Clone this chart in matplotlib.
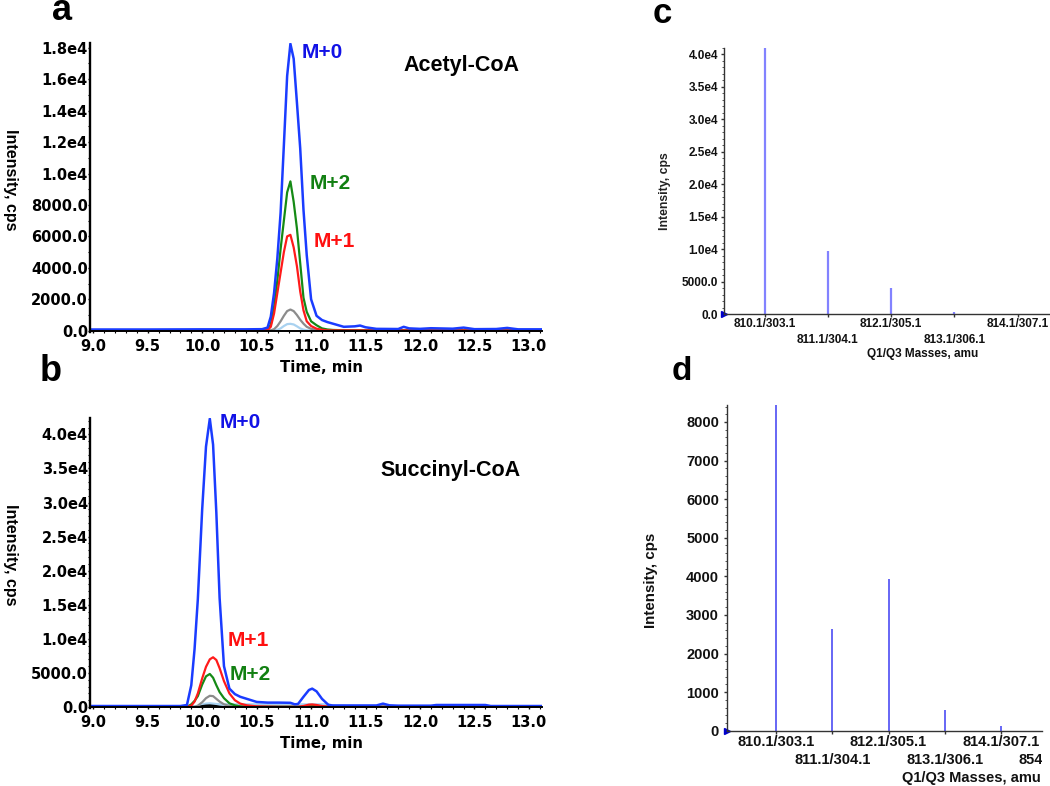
import matplotlib
matplotlib.use("Agg")
import matplotlib.pyplot as plt
from matplotlib.ticker import FixedLocator, MultipleLocator, FuncFormatter
from matplotlib.transforms import Bbox, TransformedBbox

# ---- panel a: Acetyl-CoA chromatogram ----
a_time = [8.97, 9.5, 10.0, 10.4, 10.55, 10.6, 10.63, 10.66, 10.69, 10.72, 10.75, 10.78,
          10.81, 10.84, 10.87, 10.9, 10.93, 10.96, 11.0, 11.05, 11.1, 11.15, 11.2, 11.3,
          11.4, 11.45, 11.5, 11.6, 11.8, 11.85, 11.9, 12.0, 12.1, 12.3, 12.4, 12.5,
          12.7, 12.8, 12.9, 13.12]
a_m0 = [80, 80, 90, 90, 100, 200, 900, 2400, 4600, 7500, 11800, 16200,
        18250, 17300, 14500, 11600, 7700, 4800, 2000, 950, 680, 550, 450, 250,
        280, 330, 220, 120, 110, 250, 150, 120, 160, 130, 200, 100,
        110, 180, 90, 90]
a_m1 = [20, 20, 20, 20, 20, 40, 250, 1100, 2400, 3700, 5000, 6000,
        6100, 5300, 4100, 2500, 1300, 600, 300, 130, 60, 20, 20, 20,
        20, 20, 20, 20, 20, 20, 20, 20, 20, 20, 20, 20,
        20, 20, 20, 20]
a_m2 = [30, 30, 30, 30, 30, 60, 400, 1500, 3200, 5200, 7000, 8800,
        9500, 8200, 6500, 4300, 2100, 1200, 600, 350, 150, 80, 50, 30,
        30, 30, 30, 30, 30, 30, 30, 30, 30, 30, 30, 30,
        30, 30, 30, 30]
a_m3 = [30, 30, 30, 30, 30, 30, 30, 100, 300, 600, 950, 1250,
        1350, 1250, 1000, 700, 450, 250, 120, 60, 30, 30, 30, 30,
        30, 30, 30, 30, 30, 30, 30, 30, 30, 30, 30, 30,
        30, 30, 30, 30]
a_m4 = [10, 10, 10, 10, 10, 10, 10, 20, 60, 150, 300, 420,
        440, 400, 280, 150, 70, 30, 10, 10, 10, 10, 10, 10,
        10, 10, 10, 10, 10, 10, 10, 10, 10, 10, 10, 10,
        10, 10, 10, 10]

# ---- panel b: Succinyl-CoA chromatogram ----
b_time = [8.97, 9.5, 9.8, 9.86, 9.9, 9.93, 9.96, 10.0, 10.035, 10.07, 10.1, 10.13,
          10.16, 10.2, 10.25, 10.3, 10.35, 10.41, 10.5, 10.6, 10.7, 10.81, 10.85, 10.88,
          10.93, 10.98, 11.01, 11.05, 11.1, 11.16, 11.2, 11.5, 11.6, 11.66, 11.72, 11.8,
          12.1, 12.15, 12.6, 12.65, 13.12]
b_m0 = [150, 150, 150, 300, 3200, 8500, 15800, 29000, 38200, 42300, 38500, 28500,
        16000, 6000, 2700, 1900, 1500, 1200, 750, 650, 650, 620, 400, 450,
        1500, 2500, 2700, 2300, 1200, 300, 230, 230, 230, 500, 250, 200,
        200, 300, 300, 150, 150]
b_m1 = [30, 30, 30, 30, 200, 800, 2000, 4200, 5900, 7000, 7300, 6900,
        5700, 3800, 2000, 1000, 500, 250, 100, 60, 30, 30, 30, 30,
        150, 350, 380, 300, 150, 50, 30, 30, 30, 30, 30, 30,
        30, 30, 30, 30, 30]
b_m2 = [30, 30, 30, 30, 400, 900, 1600, 3300, 4500, 4850, 4300, 3200,
        2200, 1300, 550, 250, 100, 50, 30, 30, 30, 30, 30, 30,
        30, 150, 200, 150, 30, 30, 30, 30, 30, 30, 30, 30,
        30, 30, 30, 30, 30]
b_m3 = [30, 30, 30, 30, 30, 30, 200, 700, 1300, 1650, 1600, 1200,
        800, 400, 150, 60, 30, 30, 30, 30, 30, 30, 30, 30,
        30, 30, 30, 30, 30, 30, 30, 30, 30, 30, 30, 30,
        30, 30, 30, 30, 30]
b_m4 = [30, 30, 30, 30, 30, 30, 50, 250, 400, 450, 400, 350,
        320, 300, 300, 300, 300, 300, 300, 300, 300, 300, 300, 300,
        300, 300, 300, 300, 300, 300, 100, 30, 30, 30, 30, 30,
        30, 30, 30, 30, 30]
b_m5 = [0, 0, 0, 0, 0, 0, 0, 150, 220, 250, 200, 150,
        60, 0, 0, 0, 0, 0, 0, 0, 0, 0, 0, 0,
        0, 0, 0, 0, 0, 0, 0, 0, 0, 0, 0, 0,
        0, 0, 0, 0, 0]

# ---- panels c, d: Q1/Q3 mass spectra ----
mass_labels = ["810.1/303.1", "811.1/304.1", "812.1/305.1", "813.1/306.1", "814.1/307.1"]
extra_label = "854.1/347.1"
c_intensity = [41000, 9700, 4000, 300, 0]
d_intensity = [8440, 2630, 3920, 540, 120]

BLUE, RED, GREEN, GRAY, LBLUE = "#1a3cff", "#ff1a1a", "#158a15", "#8c8c8c", "#a9d2f0"
TXT_BLUE, TXT_RED, TXT_GREEN = "#1212e6", "#ff1010", "#128012"
ARIAL = "Liberation Sans"
W, H = 1050, 786


def px_axes(l, t, r, b):
    return [l / W, 1 - b / H, (r - l) / W, (b - t) / H]


def sci_fmt(v, pos):
    if v >= 1e4:
        return f"{v / 1e4:.1f}e4"
    return f"{v:.1f}"


fig = plt.figure(figsize=(10.5, 7.86), dpi=100)


def chrom_axes(rect, ymax, ystep, yminor):
    ax = fig.add_axes(rect)
    ax.set_xlim(8.97, 13.12)
    ax.set_ylim(-80 * ymax / 18300, ymax)
    for s in ("top", "right"):
        ax.spines[s].set_visible(False)
    ax.spines["left"].set_linewidth(1.7)
    ax.spines["bottom"].set_linewidth(1.4)
    ax.spines["bottom"].set_position(("data", 0))
    ax.xaxis.set_major_locator(MultipleLocator(0.5))
    ax.xaxis.set_minor_locator(MultipleLocator(0.1))
    ax.yaxis.set_major_locator(MultipleLocator(ystep))
    ax.yaxis.set_minor_locator(MultipleLocator(yminor))
    ax.yaxis.set_major_formatter(FuncFormatter(sci_fmt))
    ax.xaxis.set_major_formatter(FuncFormatter(lambda v, p: f"{v:.1f}"))
    ax.tick_params(axis="y", which="major", length=1.5, width=1, pad=0)
    ax.tick_params(axis="x", which="major", length=1.5, width=1, pad=4.5)
    ax.tick_params(which="minor", length=1.2, width=0.8)
    for lab in ax.get_xticklabels() + ax.get_yticklabels():
        lab.set_fontfamily("DejaVu Sans")
        lab.set_fontweight("bold")
        lab.set_fontsize(10.5)
    return ax


# panel a
ax_a = chrom_axes(px_axes(90, 43, 542, 332), 18300, 2000, 1000)
ax_a.plot(a_time, a_m4, color=LBLUE, lw=1.6)
ax_a.plot(a_time, a_m3, color=GRAY, lw=1.6)
ax_a.plot(a_time, a_m2, color=GREEN, lw=1.6)
ax_a.plot(a_time, a_m1, color=RED, lw=1.6)
ax_a.plot(a_time, a_m0, color=BLUE, lw=1.8)
ax_a.text(10.914, 17330, "M+0", color=TXT_BLUE, fontsize=15, fontweight="bold", family=ARIAL, va="baseline")
ax_a.text(10.99, 9036, "M+2", color=TXT_GREEN, fontsize=15, fontweight="bold", family=ARIAL, va="baseline")
ax_a.text(11.02, 5300, "M+1", color=TXT_RED, fontsize=15, fontweight="bold", family=ARIAL, va="baseline")
ax_a.text(12.383, 16527, "Acetyl-CoA", color="black", fontsize=15.5, fontweight="bold", family=ARIAL,
          ha="center", va="baseline")

# panel b
ax_b = chrom_axes(px_axes(90, 418, 542, 708.3), 42400, 5000, 1000)
ax_b.plot(b_time, b_m4, color=LBLUE, lw=2.6)
ax_b.plot(b_time, b_m5, color="black", lw=1.4)
ax_b.plot(b_time, b_m3, color=GRAY, lw=1.6)
ax_b.plot(b_time, b_m2, color=GREEN, lw=1.6)
ax_b.plot(b_time, b_m1, color=RED, lw=1.6)
ax_b.plot(b_time, b_m0, color=BLUE, lw=1.8)
ax_b.text(10.157, 40895, "M+0", color=TXT_BLUE, fontsize=15, fontweight="bold", family=ARIAL, va="baseline")
ax_b.text(10.234, 8997, "M+1", color=TXT_RED, fontsize=15, fontweight="bold", family=ARIAL, va="baseline")
ax_b.text(10.249, 3987, "M+2", color=TXT_GREEN, fontsize=15, fontweight="bold", family=ARIAL, va="baseline")
ax_b.text(12.276, 33930, "Succinyl-CoA", color="black", fontsize=15.5, fontweight="bold", family=ARIAL,
          ha="center", va="baseline")

for yc in (180, 555):
    fig.text(10 / W, 1 - yc / H, "Intensity, cps", rotation=-90, ha="center", va="center",
             fontsize=11.5, fontweight="bold", family=ARIAL)
for yb in (372, 748):
    fig.text(321.7 / W, 1 - yb / H, "Time, min", ha="center", va="baseline",
             fontsize=10.7, fontweight="bold", family="DejaVu Sans")

clip = TransformedBbox(Bbox([[0, 0], [1042 / W, 1]]), fig.transFigure)


def spectrum_axes(rect, xlim, values, ymax, ystep, yminor, fmt, tick_fs, bar_color, bar_lw,
                  row_gap, ypad):
    ax = fig.add_axes(rect)
    pos = list(range(len(values)))
    ax.vlines(pos, 0, values, color=bar_color, lw=bar_lw)
    ax.set_xlim(*xlim)
    ax.set_ylim(0, ymax)
    for s in ("top", "right"):
        ax.spines[s].set_visible(False)
    for s in ("left", "bottom"):
        ax.spines[s].set_linewidth(1.0)
        ax.spines[s].set_color("#333333")
    ax.xaxis.set_major_locator(FixedLocator(pos))
    ax.set_xticklabels(mass_labels, fontsize=tick_fs, fontweight="bold", family=ARIAL,
                       color="#111111")
    ax.yaxis.set_major_locator(MultipleLocator(ystep))
    ax.yaxis.set_minor_locator(MultipleLocator(yminor))
    ax.yaxis.set_major_formatter(FuncFormatter(fmt))
    for lab in ax.get_yticklabels():
        lab.set_fontfamily(ARIAL)
        lab.set_fontweight("bold")
        lab.set_fontsize(tick_fs)
        lab.set_color("#111111")
    ax.tick_params(axis="x", length=2.5, width=1, pad=0.5, colors="#333333", labelcolor="#111111")
    ax.tick_params(axis="y", which="major", length=2.5, width=1, pad=ypad, colors="#333333",
                   labelcolor="#111111")
    ax.tick_params(axis="y", which="minor", length=1.2, width=0.7, colors="#555555")
    # staggered second row of mass labels
    for i, tick in enumerate(ax.xaxis.get_major_ticks()):
        if i % 2 == 1:
            tick.set_pad(0.5 + row_gap)
    ax.plot([xlim[0]], [0], marker=">", ms=5, color="#0000cc", clip_on=False)
    off_px = (2.5 + 0.5 + row_gap) * 100 / 72
    t = ax.text(len(values), -off_px / (rect[3] * H), extra_label, transform=ax.get_xaxis_transform(),
                ha="center", va="top", fontsize=tick_fs, fontweight="bold", family=ARIAL,
                color="#111111")
    t.set_clip_box(clip)
    t.set_clip_on(True)
    return ax


ax_c = spectrum_axes(px_axes(724.3, 47.7, 1050, 314.3), (-0.639, 4.514), c_intensity, 41000,
                     5000, 1000, sci_fmt, 8.5, "#8282ff", 1.6, 11.0, 1.8)
ax_d = spectrum_axes(px_axes(726.7, 405, 1041.7, 730.7), (-0.884, 4.73), d_intensity, 8440,
                     1000, 200, lambda v, p: f"{v:.0f}", 10.5, "#5a5af5", 1.3, 13.2, 3.0)

fig.text(665 / W, 1 - 190.7 / H, "Intensity, cps", rotation=90, ha="center", va="center",
         fontsize=8.8, fontweight="bold", family=ARIAL, color="#222222")
fig.text(651 / W, 1 - 580 / H, "Intensity, cps", rotation=90, ha="center", va="center",
         fontsize=10.9, fontweight="bold", family=ARIAL, color="#111111")
fig.text(922.7 / W, 1 - 357 / H, "Q1/Q3 Masses, amu", ha="center", va="baseline",
         fontsize=8.5, fontweight="bold", family=ARIAL, color="#111111")
xl = fig.text(901.7 / W, 1 - 782 / H, "Q1/Q3 Masses, amu", ha="left", va="baseline",
              fontsize=10.5, fontweight="bold", family=ARIAL, color="#111111")
xl.set_clip_box(clip)
xl.set_clip_on(True)

# panel letters
for lx, ly, s, fs in [(52, 20, "a", 26), (40, 381, "b", 26), (653, 23, "c", 25), (672, 380, "d", 24)]:
    fig.text(lx / W, 1 - ly / H, s, ha="left", va="baseline", fontsize=fs, fontweight="bold", family=ARIAL)

fig.savefig("out.png", dpi=100)
